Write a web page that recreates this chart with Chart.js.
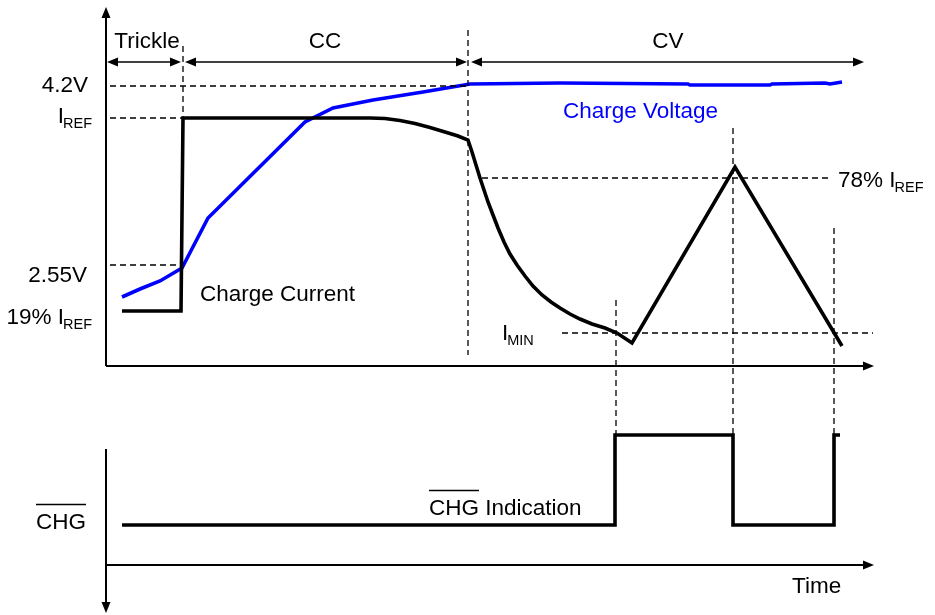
<!DOCTYPE html>
<html><head><meta charset="utf-8">
<script src="https://cdn.jsdelivr.net/npm/chart.js@4/dist/chart.umd.min.js"></script>
<style>html,body{margin:0;padding:0;background:#fff}#wrap{width:935px;height:615px}</style>
</head><body><div id="wrap"><canvas id="c" width="935" height="615"></canvas></div>
<script>
// ---- data (time in arbitrary units, level in arbitrary units; bottom panel below zero) ----
const currentTime  = [1.6,7.5,7.7,26.4,27.9,29.4,30.9,32.4,33.9,35.2,36.2,36.6,37.0,37.4,37.8,38.2,38.7,39.2,39.8,40.4,41.1,41.9,42.7,43.6,44.5,45.4,46.4,47.4,48.6,49.9,51.1,52.6,62.9,73.6];
const currentLevel = [5.5,5.5,24.8,24.8,24.75,24.55,24.25,23.85,23.4,23.0,22.6,21.4,20.1,18.8,17.6,16.4,15.1,13.8,12.4,11.2,10.1,9.0,8.0,7.1,6.4,5.8,5.2,4.7,4.2,3.8,3.3,2.3,19.9,2.0];
const voltageTime  = [1.6,3.4,5.4,7.6,10.2,19.9,22.7,26.7,31.7,36.4,45.4,58.2,58.4,66.4,66.6,71.9,72.4,73.0,73.6];
const voltageLevel = [6.9,7.7,8.5,9.8,14.8,24.4,25.8,26.6,27.4,28.2,28.3,28.2,28.1,28.1,28.2,28.3,28.2,28.3,28.4];
const chgTime  = [1.6,50.9,50.9,62.7,62.7,72.8,72.8,73.4];
const chgLevel = [-15.9,-15.9,-6.9,-6.9,-15.9,-15.9,-6.9,-6.9];
// reference levels
const levelV42 = 28.0, levelIref = 24.8, levelV255 = 10.1, levelI78 = 18.8, levelImin = 3.3, levelChgHigh = -6.9;
// phase boundaries
const phaseNames = ['Trickle','CC','CV'];
const phaseStart = [0, 7.8, 36.4];
const phaseEnd   = [7.6, 36.2, 75.9];
// dashed guides: horizontal [level, from, to], vertical [time, from, to]
const guideH = [[levelV42,0.4,36.4],[levelIref,0.4,7.7],[levelV255,0.4,7.6],[levelI78,37.6,72.6],[levelImin,45.6,76.7]];
const guideV = [[7.7,32.0,levelIref],[36.2,33.6,1.1],[51.0,6.6,levelChgHigh],[62.7,23.8,levelChgHigh],[72.8,13.8,levelChgHigh]];

const zip = (a,b)=>a.map((v,i)=>({x:v,y:b[i]}));
const datasets = [];
guideH.forEach(g=>datasets.push({data:[{x:g[1],y:g[0]},{x:g[2],y:g[0]}],borderColor:'#000',borderWidth:1.3,borderDash:[6,4]}));
guideV.forEach(g=>datasets.push({data:[{x:g[0],y:g[1]},{x:g[0],y:g[2]}],borderColor:'#000',borderWidth:1.3,borderDash:[6,4]}));
datasets.push({label:'Charge Current',data:zip(currentTime,currentLevel),borderColor:'#000',borderWidth:3.6});
datasets.push({label:'Charge Voltage',data:zip(voltageTime,voltageLevel),borderColor:'#0000ff',borderWidth:3.6});
datasets.push({label:'CHG',data:zip(chgTime,chgLevel),borderColor:'#000',borderWidth:3.6});

const FONT = '"Liberation Sans", Arial, sans-serif';
const labels = [
  {t:-1.8,y:27.4,main:'4.2V',align:'right'},
  {t:-1.4,y:24.3,main:'I',sub:'REF',align:'right'},
  {t:-1.9,y:8.4,main:'2.55V',align:'right'},
  {t:-1.4,y:4.2,main:'19% I',sub:'REF',align:'right'},
  {t:9.4,y:6.5,main:'Charge Current',align:'left'},
  {t:4.1,y:31.8,main:phaseNames[0],align:'center'},
  {t:21.9,y:31.8,main:phaseNames[1],align:'center'},
  {t:56.2,y:31.8,main:phaseNames[2],align:'center'},
  {t:45.7,y:24.8,main:'Charge Voltage',align:'left',color:'#0000ff'},
  {t:73.2,y:17.9,main:'78% I',sub:'REF',align:'left'},
  {t:39.6,y:2.6,main:'I',sub:'MIN',align:'left'},
  {t:-7.0,y:-16.3,main:'CHG',align:'left',over:'CHG'},
  {t:32.3,y:-14.9,main:'CHG Indication',align:'left',over:'CHG'},
  {t:68.6,y:-22.7,main:'Time',align:'left'}
];

function head(ctx,x,y,dx,dy){
  const L=11,W=4.5;
  ctx.beginPath();
  ctx.moveTo(x,y);
  ctx.lineTo(x-dx*L-dy*W,y-dy*L+dx*W);
  ctx.lineTo(x-dx*L+dy*W,y-dy*L-dx*W);
  ctx.closePath();ctx.fill();
}
const MAIN='22.5px ', SUB='14.5px ';
const deco = {
  id:'deco',
  afterDatasetsDraw(chart){
    const ctx=chart.ctx, X=chart.scales.x, Y=chart.scales.y;
    const px=v=>X.getPixelForValue(v), py=v=>Y.getPixelForValue(v);
    ctx.save();
    ctx.strokeStyle='#000';ctx.fillStyle='#000';ctx.lineWidth=2;
    // top panel axes
    const x0=px(0), yTop=py(35.9), yBase=py(0), xEnd=px(76.8);
    ctx.beginPath();ctx.moveTo(x0,yBase);ctx.lineTo(x0,yTop+8);ctx.stroke();head(ctx,x0,yTop,0,-1);
    ctx.beginPath();ctx.moveTo(x0,yBase);ctx.lineTo(xEnd-8,yBase);ctx.stroke();head(ctx,xEnd,yBase,1,0);
    // bottom panel axes
    const yb0=py(-8.3), yb1=py(-24.7), ybBase=py(-19.9);
    ctx.beginPath();ctx.moveTo(x0,yb0);ctx.lineTo(x0,yb1-8);ctx.stroke();head(ctx,x0,yb1,0,1);
    ctx.beginPath();ctx.moveTo(x0,ybBase);ctx.lineTo(xEnd-8,ybBase);ctx.stroke();head(ctx,xEnd,ybBase,1,0);
    // phase arrows
    ctx.lineWidth=1.5;
    const ya=py(30.4);
    phaseStart.forEach((s,i)=>{
      const a=px(s)+1,b=px(phaseEnd[i])-1;
      ctx.beginPath();ctx.moveTo(a+6,ya);ctx.lineTo(b-6,ya);ctx.stroke();
      head(ctx,a,ya,-1,0);head(ctx,b,ya,1,0);
    });
    // labels
    ctx.textBaseline='alphabetic';
    labels.forEach(l=>{
      const color=l.color||'#000';
      ctx.fillStyle=color;ctx.strokeStyle=color;
      ctx.font=MAIN+FONT;
      const wm=ctx.measureText(l.main).width;
      let ws=0;
      if(l.sub){ctx.font=SUB+FONT;ws=ctx.measureText(l.sub).width-1;}
      const w=wm+ws;
      let x=px(l.t);
      if(l.align==='right')x-=w;else if(l.align==='center')x-=w/2;
      const y=py(l.y);
      ctx.font=MAIN+FONT;ctx.textAlign='left';
      ctx.fillText(l.main,x,y);
      if(l.sub){ctx.font=SUB+FONT;ctx.fillText(l.sub,x+wm-1,y+5);}
      if(l.over){
        ctx.font=MAIN+FONT;
        const wo=ctx.measureText(l.over).width;
        ctx.lineWidth=1.5;ctx.beginPath();ctx.moveTo(x,y-24.5);ctx.lineTo(x+wo,y-24.5);ctx.stroke();
      }
    });
    ctx.restore();
  }
};

new Chart(document.getElementById('c'),{
  type:'line',
  data:{datasets},
  options:{
    responsive:false,animation:false,devicePixelRatio:1,
    layout:{padding:0},
    elements:{point:{radius:0},line:{tension:0,borderJoinStyle:'miter'}},
    plugins:{legend:{display:false},tooltip:{enabled:false}},
    scales:{
      x:{type:'linear',min:-10.6,max:82.9,display:false},
      y:{type:'linear',min:-24.9,max:36.6,display:false}
    }
  },
  plugins:[deco]
});
</script></body></html>
